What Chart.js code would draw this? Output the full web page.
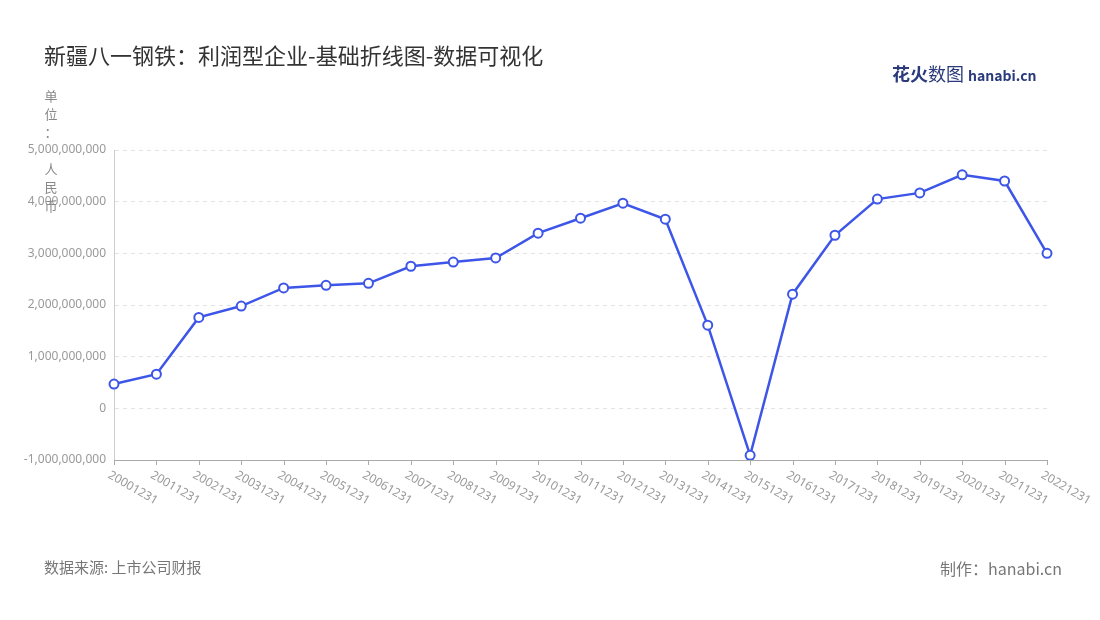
<!DOCTYPE html>
<html><head><meta charset="utf-8">
<script src="https://cdn.jsdelivr.net/npm/chart.js@4"></script>
<style>
body{margin:0;width:1100px;height:620px;background:#fff;font-family:"Noto Sans CJK SC","Noto Sans",sans-serif;position:relative;overflow:hidden}
#c{position:absolute;left:0;top:0}
.t{position:absolute;white-space:nowrap}
.u{position:absolute;left:44px;width:14px;text-align:center;font-size:13px;color:#888}
</style></head><body>
<canvas id="c" width="1100" height="620"></canvas>
<div class="t" style="left:44px;top:38px;font-size:22px;color:#333">新疆八一钢铁：利润型企业-基础折线图-数据可视化</div>
<div class="t" style="left:892px;top:60px;font-size:18px;font-weight:bold;color:#2a3a7a">花火<span style="font-weight:normal">数图</span> <span style="font-size:14px;color:#2a3a7a">hanabi.cn</span></div>
<div class="u" style="top:86px">单</div><div class="u" style="top:104px">位</div><div class="u" style="top:122px">：</div>
<div class="u" style="top:159px">人</div><div class="u" style="top:177px">民</div><div class="u" style="top:196px">币</div>
<div class="t" style="left:44px;top:556px;font-size:15px;color:#777">数据来源: 上市公司财报</div>
<div class="t" style="left:940px;top:556px;font-size:16px;color:#777">制作：hanabi.cn</div>
<script>
const categories=["20001231","20011231","20021231","20031231","20041231","20051231","20061231","20071231","20081231","20091231","20101231","20111231","20121231","20131231","20141231","20151231","20161231","20171231","20181231","20191231","20201231","20211231","20221231"];
const profit=[0.47e9,0.66e9,1.76e9,1.98e9,2.33e9,2.38e9,2.42e9,2.75e9,2.83e9,2.91e9,3.39e9,3.68e9,3.97e9,3.66e9,1.61e9,-0.91e9,2.21e9,3.35e9,4.05e9,4.17e9,4.52e9,4.40e9,3.00e9];
const labelPlugin={id:'lp',afterDraw(ch){const s=ch.scales.x,c=ch.ctx;c.save();c.fillStyle='#999';c.font='12px "Noto Sans",sans-serif';c.textBaseline='top';c.strokeStyle='#aaa';c.lineWidth=1;
categories.forEach((l,i)=>{const x=s.getPixelForTick(i);c.beginPath();c.moveTo(Math.round(x)+0.5,s.top);c.lineTo(Math.round(x)+0.5,s.top+5);c.stroke();c.save();c.translate(x-2,s.top+9);c.rotate(Math.PI/6);c.fillText(l,0,0);c.restore();});c.restore();}};
new Chart(document.getElementById('c'),{type:'line',
data:{labels:categories,datasets:[{data:profit,borderColor:'#3d56e8',borderWidth:2.5,pointBackgroundColor:'#fff',pointBorderColor:'#3d56e8',pointBorderWidth:2,pointRadius:4.5,tension:0}]},
options:{responsive:false,animation:false,devicePixelRatio:1,layout:{padding:{left:0,top:150,right:53,bottom:0}},
plugins:{legend:{display:false},tooltip:{enabled:false}},
scales:{x:{offset:false,grid:{display:false},border:{color:'#aaa'},ticks:{callback:()=>'',padding:0},afterFit(s){s.height=160;}},
y:{min:-1e9,max:5e9,ticks:{stepSize:1e9,color:'#999',padding:8,font:{size:12,family:'"Noto Sans",sans-serif'},callback:v=>v.toLocaleString('en-US')},
grid:{color:'#e2e2e2',drawTicks:false},border:{color:'#ccc',dash:[4,4]},afterFit(s){s.width=114;}}}}
,plugins:[labelPlugin]});
</script></body></html>
